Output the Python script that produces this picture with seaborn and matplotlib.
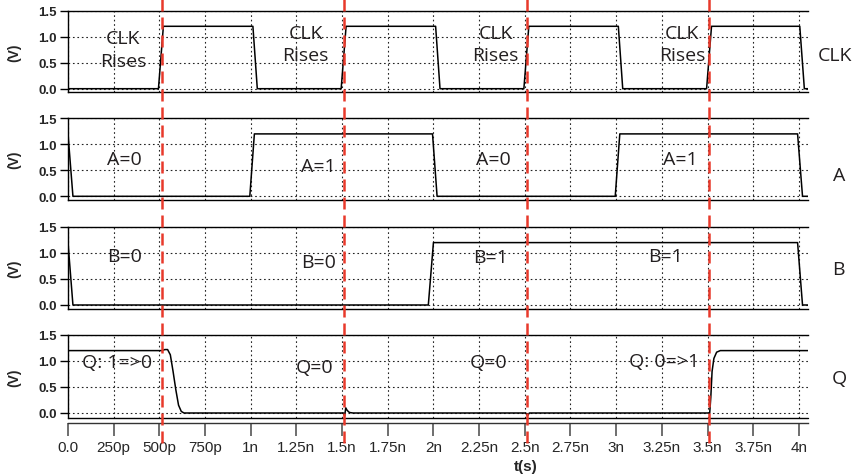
import matplotlib
matplotlib.use("Agg")
import matplotlib.pyplot as plt
import seaborn as sns
import pandas as pd
from matplotlib.lines import Line2D
from matplotlib import transforms

# ---- waveform breakpoints (time in ns, voltage in V) ----
clk_t = [0.0, 0.495, 0.522, 1.012, 1.036, 1.495, 1.522, 2.012, 2.036, 2.495, 2.522,
         3.012, 3.036, 3.495, 3.522, 4.005, 4.03, 4.05]
clk_v = [0.0, 0.0, 1.2, 1.2, 0.0, 0.0, 1.2, 1.2, 0.0, 0.0, 1.2,
         1.2, 0.0, 0.0, 1.2, 1.2, 0.0, 0.0]

a_t = [0.0, 0.027, 0.995, 1.02, 1.995, 2.02, 2.995, 3.02, 3.993, 4.02, 4.05]
a_v = [1.2, 0.0, 0.0, 1.2, 1.2, 0.0, 0.0, 1.2, 1.2, 0.0, 0.0]

b_t = [0.0, 0.027, 1.972, 2.0, 3.993, 4.02, 4.05]
b_v = [1.2, 0.0, 0.0, 1.2, 1.2, 0.0, 0.0]

q_t = [0.0, 0.515, 0.53, 0.545, 0.56, 0.575, 0.59, 0.605, 0.62, 0.635, 0.66,
       1.508, 1.514, 1.52, 1.528, 1.54, 1.56,
       2.505, 2.515, 2.525,
       3.512, 3.518, 3.525, 3.535, 3.55, 3.57, 4.05]
q_v = [1.2, 1.2, 1.22, 1.22, 1.12, 0.8, 0.45, 0.15, 0.03, 0.0, 0.0,
       0.0, -0.06, 0.1, 0.05, 0.01, 0.0,
       0.0, -0.05, 0.0,
       0.0, 0.3, 0.8, 1.05, 1.17, 1.2, 1.2]

# clock edges marked with red dashed guides (ns)
edge_marks = [0.515, 1.51, 2.51, 3.51]

x_ticks = [0.0, 0.25, 0.5, 0.75, 1.0, 1.25, 1.5, 1.75, 2.0, 2.25, 2.5, 2.75,
           3.0, 3.25, 3.5, 3.75, 4.0]
x_tick_labels = ["0.0", "250p", "500p", "750p", "1n", "1.25n", "1.5n", "1.75n",
                 "2n", "2.25n", "2.5n", "2.75n", "3n", "3.25n", "3.5n", "3.75n", "4n"]
y_ticks = [0.0, 0.5, 1.0, 1.5]
y_tick_labels = ["0.0", "0.5", "1.0", "1.5"]

signal_names = ["CLK", "A", "B", "Q"]

# in-panel notes: (text, x in ns, y in V)
clk_notes = [("CLK\nRises", 0.30, 0.76), ("CLK\nRises", 1.30, 0.86),
             ("CLK\nRises", 2.34, 0.86), ("CLK\nRises", 3.36, 0.86)]
a_notes = [("A=0", 0.31, 0.72), ("A=1", 1.37, 0.58), ("A=0", 2.33, 0.72), ("A=1", 3.35, 0.72)]
b_notes = [("B=0", 0.31, 0.95), ("B=0", 1.37, 0.82), ("B=1", 2.31, 0.92), ("B=1", 3.27, 0.95)]
q_notes = [("Q: 1=>0", 0.27, 0.98), ("Q=0", 1.35, 0.88), ("Q=0", 2.30, 0.98), ("Q: 0=>1", 3.26, 1.0)]

sns.set_theme(style="white")
plt.rcParams['font.family'] = ['Liberation Sans', 'DejaVu Sans']

W, H = 857, 477
fig = plt.figure(figsize=(W / 100, H / 100), dpi=100)

left_px, right_px = 68, 808
panel_tops = [11.7, 119.3, 228.0, 336.0]
px_per_volt = 52.0
y_bottoms = [-0.07, -0.07, -0.07, -0.09]
x_max = 4.05

series = [(clk_t, clk_v), (a_t, a_v), (b_t, b_v), (q_t, q_v)]
notes = [clk_notes, a_notes, b_notes, q_notes]
right_label_pos = [(835, 56), (839, 176), (838, 270), (839, 379)]

grid_style = dict(color="#222222", linestyle=(0, (1.5, 2.5)), linewidth=0.8)
note_font = dict(family=["Open Sans", "DejaVu Sans"], fontsize=14, color="#231f20")
tick_font = dict(family=["Liberation Sans", "DejaVu Sans"], fontsize=9.5, fontweight="bold")

axes = []
for i, ((t, v), yb) in enumerate(zip(series, y_bottoms)):
    top = panel_tops[i]
    height_px = (1.5 - yb) * px_per_volt
    bottom = top + height_px
    ax = fig.add_axes([left_px / W, 1 - bottom / H, (right_px - left_px) / W, height_px / H])
    ax.set_facecolor("white")
    df = pd.DataFrame({"t": t, "v": v})
    sns.lineplot(data=df, x="t", y="v", ax=ax, color="black", linewidth=1.1,
                 estimator=None, sort=False)
    ax.set_xlim(0, x_max)
    ax.set_ylim(yb, 1.5)
    ax.set_xticks(x_ticks)
    ax.set_yticks(y_ticks)
    ax.set_yticklabels(y_tick_labels, **tick_font)
    ax.set_xlabel("")
    ax.set_ylabel("")
    ax.grid(True, **grid_style)
    ax.set_axisbelow(True)
    for side in ("top", "left", "bottom"):
        ax.spines[side].set_visible(True)
        ax.spines[side].set_color("black")
        ax.spines[side].set_linewidth(1.0)
    ax.spines["right"].set_visible(False)
    ax.tick_params(axis="y", direction="out", length=6, width=1.0, color="black",
                   pad=2, left=True)
    if i < 3:
        ax.tick_params(axis="x", bottom=False, labelbottom=False)
    else:
        ax.set_xticklabels(x_tick_labels, **tick_font)
        ax.spines["bottom"].set_position(("outward", 4))
        ax.spines["bottom"].set_color("#333333")
        ax.plot([0, 1], [0, 0], transform=ax.transAxes, color="black",
                linewidth=1.0, clip_on=False)
        ax.tick_params(axis="x", direction="out", length=9, width=1.2,
                       color="#555555", pad=3, bottom=True)
    for s, x, y in notes[i]:
        ax.text(x, y, s, ha="center", va="center", linespacing=1.35, **note_font)
    # axis unit label and signal name
    mid = top + height_px / 2
    fig.text(14 / W, 1 - mid / H, "(V)", rotation=90, ha="center", va="center",
             fontsize=10, fontweight="bold")
    rx, ry = right_label_pos[i]
    fig.text(rx / W, 1 - ry / H, signal_names[i], ha="center", va="center", **note_font)
    axes.append(ax)

fig.text(526 / W, 1 - 467 / H, "t(s)", ha="center", va="center",
         family=["Liberation Sans", "DejaVu Sans"], fontsize=11, fontweight="bold")

# red dashed guides across all panels
blend = transforms.blended_transform_factory(axes[0].transData, fig.transFigure)
for xm in edge_marks:
    fig.add_artist(Line2D([xm, xm], [1.0, 1 - 447 / H], transform=blend,
                          color="#e8392b", linewidth=1.8, dashes=(4.8, 2.4),
                          zorder=10))

fig.savefig("out.png", dpi=100)
